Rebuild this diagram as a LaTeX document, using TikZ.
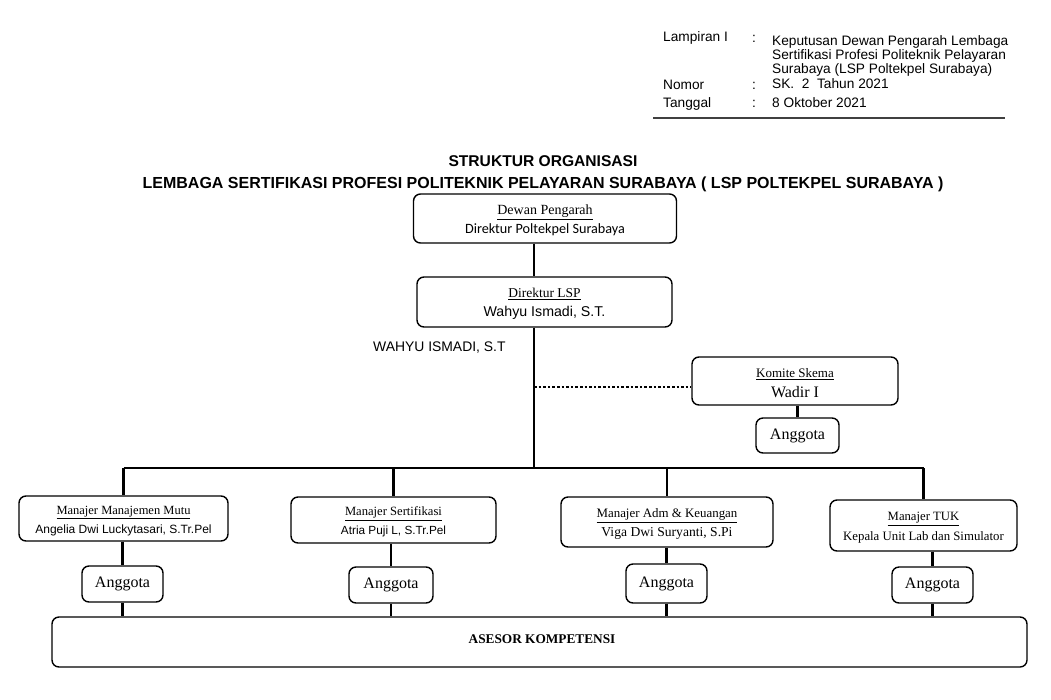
\documentclass[tikz,border=0pt]{standalone}
\usepackage{fontspec}
\setmainfont{Liberation Serif}
\newfontfamily\arial{Liberation Sans}
\newfontfamily\calib{Carlito}
\tikzset{
  box/.style={draw, line width=1.4pt, rounded corners=7pt, inner sep=0pt, align=center},
  conn/.style={line width=2.6pt},
  hdr/.style={anchor=base west, inner sep=0pt, font=\arial\fontsize{13.7}{15}\selectfont},
  bl17/.style={font=\fontsize{12}{17}\selectfont},
  bl18/.style={font=\fontsize{12}{18}\selectfont},
}
\newcommand{\ang}{{\fontsize{16}{18}\selectfont Anggota}}
\newcommand{\dn}{\rule{0pt}{13pt}}
\begin{document}
\begin{tikzpicture}[x=1pt,y=-1pt]
\useasboundingbox (0,0) rectangle (1051,699);
% header
\node[hdr] (l1) at (663,41) {Lampiran I};
\node[hdr] (c1) at (752,42) {:};
\node[hdr] (t1) at (772,45) {Keputusan Dewan Pengarah Lembaga};
\node[hdr] (t2) at (772,59) {Sertifikasi Profesi Politeknik Pelayaran};
\node[hdr] (t3) at (772,73) {Surabaya (LSP Poltekpel Surabaya)};
\node[hdr] (l2) at (663,89) {Nomor};
\node[hdr] (c2) at (752,89) {:};
\node[hdr] (t4) at (772,88) {SK.\ \ 2\ \ Tahun 2021};
\node[hdr] (l3) at (663,107) {Tanggal};
\node[hdr] (c3) at (752,107) {:};
\node[hdr] (t5) at (772,107) {8 Oktober 2021};
\draw[line width=1.2pt, black!75] (653,118) -- (1005,118);
% title
\node[anchor=base, inner sep=0pt, font=\arial\bfseries\fontsize{15.6}{18}\selectfont] (ti1) at (543,166) {STRUKTUR ORGANISASI};
\node[anchor=base, inner sep=0pt, font=\arial\bfseries\fontsize{16}{18}\selectfont] (ti2) at (543,188) {LEMBAGA SERTIFIKASI PROFESI POLITEKNIK PELAYARAN SURABAYA ( LSP POLTEKPEL SURABAYA )};
% boxes
\node[box, bl17, minimum width=263pt, minimum height=49pt] (dewan) at (545,218.5)
  {\dn{\fontsize{14}{17}\selectfont\underline{Dewan Pengarah}}\\[2pt]{\calib\fontsize{14.2}{17}\selectfont Direktur Poltekpel Surabaya}};
\node[box, bl17, minimum width=255pt, minimum height=50pt] (dir) at (544.5,302)
  {\dn{\fontsize{13.5}{17}\selectfont\underline{Direktur LSP}}\\[2pt]{\arial\fontsize{14.2}{17}\selectfont Wahyu Ismadi, S.T.}};
\node[anchor=base west, inner sep=0pt, font=\arial\fontsize{13.9}{16}\selectfont] (wahyu) at (373,351) {WAHYU ISMADI, S.T};
\node[box, bl18, minimum width=206pt, minimum height=48pt] (komite) at (795,381)
  {\dn{\fontsize{13}{18}\selectfont\underline{Komite Skema}}\\[2pt]{\fontsize{16}{18}\selectfont Wadir I}};
\node[box, minimum width=83pt, minimum height=35pt] (ak) at (797.5,435.5) {\ang};
\node[box, bl17, minimum width=209pt, minimum height=45pt] (m1) at (123.5,518.5)
  {\dn{\fontsize{12.5}{17}\selectfont\underline{Manajer Manajemen Mutu}}\\[2pt]{\arial\fontsize{12}{17}\selectfont Angelia Dwi Luckytasari, S.Tr.Pel}};
\node[box, bl17, minimum width=205pt, minimum height=46pt] (m2) at (393.5,520)
  {\dn{\fontsize{12.6}{17}\selectfont\underline{Manajer Sertifikasi}}\\[2pt]{\arial\fontsize{11.8}{17}\selectfont Atria Puji L, S.Tr.Pel}};
\node[box, bl17, minimum width=212pt, minimum height=50pt] (m3) at (667,522)
  {\dn{\fontsize{12.9}{17}\selectfont\underline{Manajer Adm \& Keuangan}}\\[2pt]{\fontsize{13.6}{17}\selectfont Viga Dwi Suryanti, S.Pi}};
\node[box, bl18, minimum width=187pt, minimum height=51pt] (m4) at (923.5,525.5)
  {\dn{\fontsize{12.7}{18}\selectfont\underline{Manajer TUK}}\\[2pt]{\fontsize{12.8}{18}\selectfont Kepala Unit Lab dan Simulator}};
\node[box, minimum width=81pt, minimum height=36pt] (a1) at (122.5,584) {\ang};
\node[box, minimum width=84pt, minimum height=36pt] (a2) at (391,585) {\ang};
\node[box, minimum width=81pt, minimum height=39pt] (a3) at (666.5,583.5) {\ang};
\node[box, minimum width=81pt, minimum height=36pt] (a4) at (932.5,585) {\ang};
\node[box, minimum width=975pt, minimum height=50pt] (asesor) at (539.5,642) {};
\node[anchor=base, inner sep=0pt, font=\bfseries\fontsize{13.3}{15}\selectfont] (asesortxt) at (542,643) {ASESOR KOMPETENSI};
% connectors
\coordinate (spine) at (534,468);
\coordinate (dot) at (534,387);
\draw[conn] (dewan.south -| spine) -- (dir.north -| spine);
\draw[conn] (dir.south -| spine) -- (spine);
\draw[line width=2.6pt, dotted] (dot) -- (dot -| komite.west);
\draw[conn] (ak.north |- komite.south) -- (ak.north);
\draw[conn] (m1.north |- spine) -- (m4.north |- spine);
\foreach \m in {m1,m2,m3,m4}{
  \draw[conn] (\m.north |- spine) -- (\m.north);
}
\foreach \m/\a in {m1/a1,m2/a2,m3/a3,m4/a4}{
  \draw[conn] (\a.north |- \m.south) -- (\a.north);
  \draw[conn] (\a.south) -- (\a.south |- asesor.north);
}
\end{tikzpicture}
\end{document}
